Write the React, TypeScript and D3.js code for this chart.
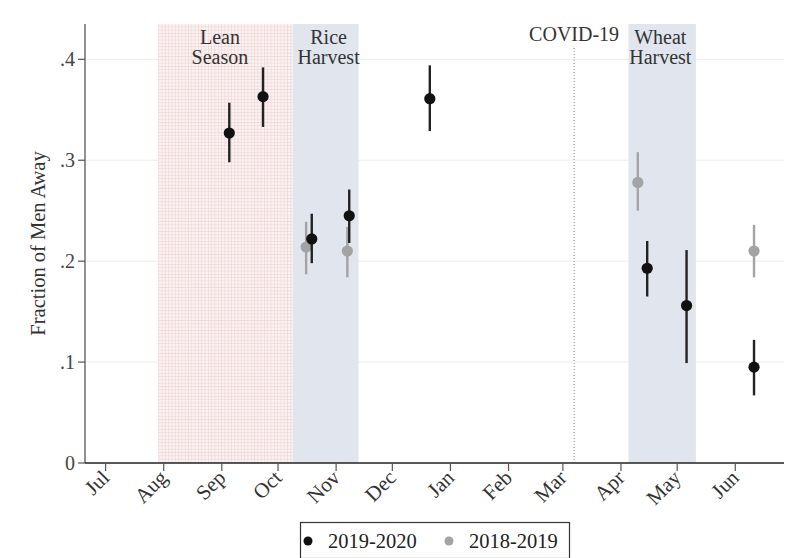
import React, { useEffect } from 'react';
import * as d3 from 'd3';

// month ticks (first of each month)
const monthLabels = ['Jul', 'Aug', 'Sep', 'Oct', 'Nov', 'Dec', 'Jan', 'Feb', 'Mar', 'Apr', 'May', 'Jun'];
const monthDates = ['2019-07-01', '2019-08-01', '2019-09-01', '2019-10-01', '2019-11-01', '2019-12-01',
  '2020-01-01', '2020-02-01', '2020-03-01', '2020-04-01', '2020-05-01', '2020-06-01'];

// 2019-2020 survey rounds
const dates1920 = ['2019-09-05', '2019-09-23', '2019-10-19', '2019-11-08', '2019-12-21', '2020-04-15', '2020-05-06', '2020-06-11'];
const mean1920 = [0.327, 0.363, 0.222, 0.245, 0.361, 0.193, 0.156, 0.095];
const lo1920 = [0.298, 0.333, 0.198, 0.218, 0.329, 0.165, 0.099, 0.067];
const hi1920 = [0.357, 0.392, 0.247, 0.271, 0.394, 0.220, 0.211, 0.122];

// 2018-2019 comparison rounds
const dates1819 = ['2019-10-16', '2019-11-07', '2020-04-10', '2020-06-11'];
const mean1819 = [0.214, 0.210, 0.278, 0.210];
const lo1819 = [0.187, 0.184, 0.250, 0.184];
const hi1819 = [0.239, 0.234, 0.308, 0.236];

// shaded seasons
const seasonNames = [['Lean', 'Season'], ['Rice', 'Harvest'], ['Wheat', 'Harvest']];
const seasonStart = ['2019-07-29', '2019-10-09', '2020-04-05'];
const seasonEnd = ['2019-10-09', '2019-11-13', '2020-05-11'];
const seasonLabelAt = ['2019-08-31', '2019-10-28', '2020-04-22'];
const covidDate = '2020-03-07';

const yTicks = [0, 0.1, 0.2, 0.3, 0.4];
const seriesNames = ['2019-2020', '2018-2019'];

const W = 788;
const H = 558;
const font = '"Liberation Serif", "DejaVu Serif", serif';

export default function App() {
  useEffect(() => {
    document.body.style.margin = '0';
  }, []);

  const parse = d3.utcParse('%Y-%m-%d');
  const x = d3.scaleUtc()
    .domain([parse('2019-06-20')!, parse('2020-06-27')!])
    .range([85, 784]);
  const y = d3.scaleLinear().domain([0, 0.435]).range([463, 24]);
  const fmt = (v: number) => (v === 0 ? '0' : d3.format('.1f')(v).replace(/^0/, ''));
  const xd = (s: string) => x(parse(s)!);

  const black = '#111';
  const gray = '#a3a3a3';

  return (
    <svg width={W} height={H} style={{ display: 'block', background: '#fff' }} fontFamily={font}>
      <defs>
        <pattern id="hatch" width={3.3} height={3.3} patternUnits="userSpaceOnUse">
          <rect width={3.3} height={3.3} fill="#fbf2f2" />
          <path d="M0,0.3H3.3M0.3,0V3.3" stroke="#eccfcf" strokeWidth={0.6} />
        </pattern>
      </defs>

      {/* gridlines */}
      {yTicks.filter(t => t > 0).map(t => (
        <line key={t} x1={86} x2={784} y1={y(t)} y2={y(t)} stroke="#ececec" strokeWidth={1} />
      ))}

      {/* seasons */}
      {seasonNames.map((nm, i) => (
        <rect key={i} x={xd(seasonStart[i])} y={y(0.435)}
          width={xd(seasonEnd[i]) - xd(seasonStart[i])} height={y(0) - y(0.435)}
          fill={i === 0 ? 'url(#hatch)' : '#e1e6ee'} />
      ))}
      {seasonNames.map((nm, i) => (
        <text key={i} x={xd(seasonLabelAt[i])} textAnchor="middle" fontSize={20} fill="#333">
          <tspan x={xd(seasonLabelAt[i])} y={44}>{nm[0]}</tspan>
          <tspan x={xd(seasonLabelAt[i])} y={64}>{nm[1]}</tspan>
        </text>
      ))}

      {/* covid marker */}
      <line x1={xd(covidDate)} x2={xd(covidDate)} y1={48} y2={462} stroke="#888" strokeWidth={1} strokeDasharray="1 2" />
      <text x={xd(covidDate)} y={41} textAnchor="middle" fontSize={20} fill="#333">COVID-19</text>

      {/* 2018-2019 series */}
      {dates1819.map((d, i) => (
        <g key={d + i}>
          <line x1={xd(d)} x2={xd(d)} y1={y(lo1819[i])} y2={y(hi1819[i])} stroke={gray} strokeWidth={2.4} />
          <circle cx={xd(d)} cy={y(mean1819[i])} r={5.6} fill={gray} />
        </g>
      ))}
      {/* 2019-2020 series */}
      {dates1920.map((d, i) => (
        <g key={d + i}>
          <line x1={xd(d)} x2={xd(d)} y1={y(lo1920[i])} y2={y(hi1920[i])} stroke="#222" strokeWidth={2.4} />
          <circle cx={xd(d)} cy={y(mean1920[i])} r={5.6} fill={black} />
        </g>
      ))}

      {/* y axis */}
      <line x1={85} x2={85} y1={24} y2={463} stroke="#555" strokeWidth={1.3} />
      {yTicks.map(t => (
        <g key={t}>
          <line x1={78} x2={85} y1={y(t)} y2={y(t)} stroke="#555" strokeWidth={1.2} />
          <text x={75} y={y(t)} dy="0.34em" textAnchor="end" fontSize={20} fill="#444">{fmt(t)}</text>
        </g>
      ))}
      <text transform={`translate(45,${y(0.2175)}) rotate(-90)`} textAnchor="middle" fontSize={20.5} fill="#333">
        Fraction of Men Away
      </text>

      {/* x axis */}
      <line x1={85} x2={784} y1={463} y2={463} stroke="#222" strokeWidth={1.5} />
      {monthDates.map((d, i) => (
        <g key={d}>
          <line x1={xd(d)} x2={xd(d)} y1={463} y2={471} stroke="#555" strokeWidth={1.2} />
          <text transform={`translate(${xd(d) + 5},${479}) rotate(-45)`} textAnchor="end" fontSize={21} fill="#333">
            {monthLabels[i]}
          </text>
        </g>
      ))}

      {/* legend */}
      <rect x={300.5} y={522.5} width={269} height={36} fill="#fff" stroke="#333" strokeWidth={1.2} />
      {seriesNames.map((nm, i) => (
        <g key={nm}>
          <circle cx={i === 0 ? 308 : 449} cy={541} r={4.5} fill={i === 0 ? black : gray} />
          <text x={i === 0 ? 328 : 469} y={548} fontSize={20.5} fill="#222">{nm}</text>
        </g>
      ))}
    </svg>
  );
}
